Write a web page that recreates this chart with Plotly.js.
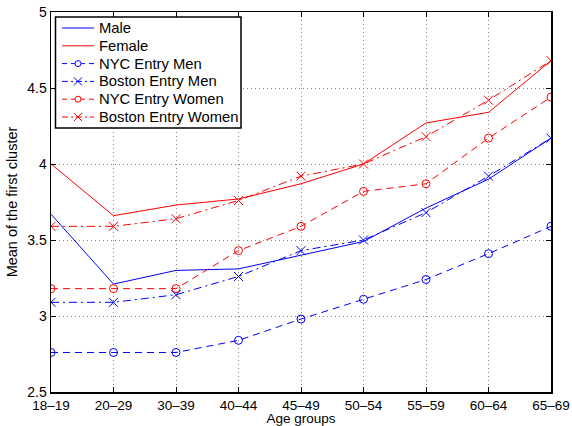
<!DOCTYPE html>
<html><head><meta charset="utf-8">
<script src="https://cdn.plot.ly/plotly-3.0.1.min.js"></script>
<style>html,body{margin:0;padding:0;background:#fff}#c{width:572px;height:426px}</style>
</head><body><div id="c"></div>
<script>
const ageGroups = ["18–19","20–29","30–39","40–44","45–49","50–54","55–59","60–64","65–69"];
const male = [3.67,3.21,3.30,3.31,3.40,3.49,3.71,3.90,4.17];
const female = [4.00,3.66,3.73,3.77,3.87,4.00,4.27,4.34,4.68];
const nycMen = [2.76,2.76,2.76,2.84,2.98,3.11,3.24,3.41,3.59];
const bostonMen = [3.09,3.09,3.14,3.26,3.43,3.50,3.68,3.92,4.17];
const nycWomen = [3.18,3.18,3.18,3.43,3.59,3.82,3.87,4.17,4.44];
const bostonWomen = [3.59,3.59,3.64,3.76,3.92,4.00,4.18,4.42,4.68];
const seriesNames = ["Male","Female","NYC Entry Men","Boston Entry Men","NYC Entry Women","Boston Entry Women"];
const yTicks = [2.5,3,3.5,4,4.5,5];
const yTickText = ["2.5","3","3.5","4","4.5","5"];

const xIdx = ageGroups.map((_,i)=>i);
const blue = "#0000ff", red = "#ff0000";
const DASH = "7px,5px", DASHDOT = "8px,4px,2px,4px";
const styles = [
  {color:blue, dash:"solid", marker:null},
  {color:red, dash:"solid", marker:null},
  {color:blue, dash:DASH, marker:"circle-open"},
  {color:blue, dash:DASHDOT, marker:"x-thin-open"},
  {color:red, dash:DASH, marker:"circle-open"},
  {color:red, dash:DASHDOT, marker:"x-thin-open"}
];
const values = [male, female, nycMen, bostonMen, nycWomen, bostonWomen];
const data = values.map((y,i)=>{
  const s = styles[i];
  const t = {x:xIdx, y:y, name:seriesNames[i], type:"scatter", showlegend:false,
    line:{color:s.color, width:1, dash:s.dash}};
  if(s.marker){ t.mode="lines+markers";
    t.marker={symbol:s.marker, size:s.marker==="circle-open"?8:9, color:s.color, line:{color:s.color,width:1}}; }
  else t.mode="lines";
  return t;
});

// Legend box (MATLAB style) built from layout shapes + annotations, in plot-area pixels
const W = 572, H = 426, M = {l:51, r:21, t:12, b:34};
const pw = W - M.l - M.r, ph = H - M.t - M.b;
const px = X => (X - M.l) / pw;
const py = Y => (H - M.b - Y) / ph;
const shapes = [], annotations = [];
const LB = {x0:55.5, x1:241, y0:17, y1:128, row0:28, rowH:17.8, l0:62, l1:94, tx:98};
shapes.push({type:"rect", xref:"paper", yref:"paper", layer:"above",
  x0:px(LB.x0), x1:px(LB.x1), y0:py(LB.y1), y1:py(LB.y0),
  fillcolor:"#fff", line:{color:"#000", width:1.5}});
seriesNames.forEach((nm,i)=>{
  const s = styles[i], yc = LB.row0 + i*LB.rowH;
  shapes.push({type:"line", xref:"paper", yref:"paper", layer:"above",
    x0:px(LB.l0), x1:px(LB.l1), y0:py(yc), y1:py(yc),
    line:{color:s.color, width:1, dash:s.dash==="solid"?"solid":(s.dash===DASH?"5px,4px":"6px,3px,2px,3px")}});
  const mc = (LB.l0+LB.l1)/2;
  if(s.marker==="circle-open"){
    shapes.push({type:"circle", xref:"paper", yref:"paper", layer:"above",
      x0:px(mc-3), x1:px(mc+3), y0:py(yc+3), y1:py(yc-3),
      fillcolor:"#fff", line:{color:s.color, width:1}});
  } else if(s.marker){
    shapes.push({type:"line", xref:"paper", yref:"paper", layer:"above",
      x0:px(mc-4), x1:px(mc+4), y0:py(yc+4), y1:py(yc-4), line:{color:s.color, width:1}});
    shapes.push({type:"line", xref:"paper", yref:"paper", layer:"above",
      x0:px(mc-4), x1:px(mc+4), y0:py(yc-4), y1:py(yc+4), line:{color:s.color, width:1}});
  }
  annotations.push({xref:"paper", yref:"paper", x:px(LB.tx), y:py(yc), text:nm,
    showarrow:false, xanchor:"left", yanchor:"middle", borderpad:0,
    font:{size:14.8, color:"#000"}});
});

const fam = "Liberation Sans, Arial, Helvetica, sans-serif";
const layout = {
  width:W, height:H,
  margin:M,
  paper_bgcolor:"#fff", plot_bgcolor:"#fff",
  font:{family:fam, size:14, color:"#000"},
  showlegend:false,
  shapes:shapes, annotations:annotations,
  xaxis:{range:[0,8], tickmode:"array", tickvals:xIdx, ticktext:ageGroups,
    showgrid:true, gridcolor:"#888", griddash:"1px,3px", gridwidth:1,
    showline:true, linecolor:"#000", linewidth:1.5, mirror:"allticks",
    ticks:"inside", ticklen:5, tickcolor:"#000", zeroline:false,
    tickfont:{size:13.5}, automargin:false,
    title:{text:"Age groups", font:{size:13.5}, standoff:3}},
  yaxis:{range:[2.5,5], tickmode:"array", tickvals:yTicks, ticktext:yTickText,
    showgrid:true, gridcolor:"#888", griddash:"1px,3px", gridwidth:1,
    showline:true, linecolor:"#000", linewidth:1.5, mirror:"allticks",
    ticks:"inside", ticklen:5, tickcolor:"#000", zeroline:false,
    tickfont:{size:14}, automargin:false,
    title:{text:"Mean of the first cluster", font:{size:14.5}, standoff:6}}
};
Plotly.newPlot("c", data, layout, {displayModeBar:false, staticPlot:true});
</script></body></html>
